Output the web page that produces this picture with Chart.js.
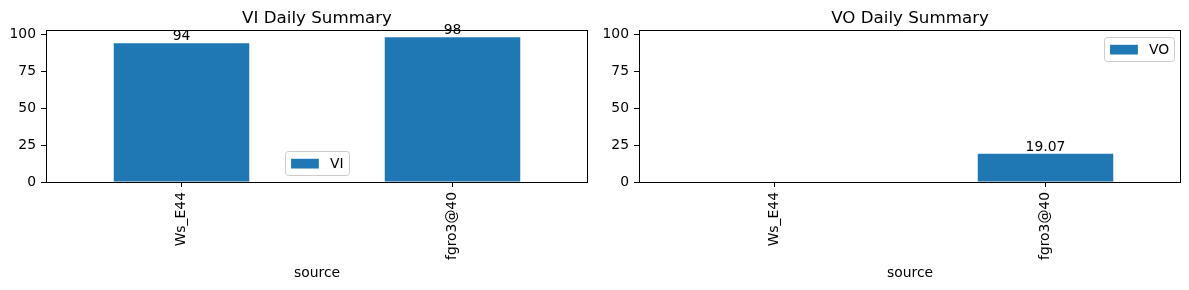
<!DOCTYPE html>
<html>
<head>
<meta charset="utf-8">
<script src="https://cdn.jsdelivr.net/npm/chart.js@4.4.1/dist/chart.umd.min.js"></script>
<style>
  html, body { margin:0; padding:0; background:#fff; overflow:hidden; }
  #wrap { position:relative; width:1189px; height:290px; }
  .panel { position:absolute; top:0; height:290px; }
</style>
</head>
<body>
<div id="wrap">
  <div class="panel" style="left:0;width:594px"><canvas id="chartVI"></canvas></div>
  <div class="panel" style="left:594px;width:595px"><canvas id="chartVO"></canvas></div>
</div>
<script>
// data
const sources = ['Ws_E44', 'fgro3@40'];
const viValues = [94, 98];
const voValues = [null, 19.07];   // no bar / no label for Ws_E44
const yTicks = [0, 25, 50, 75, 100];
const yMax = 102.9;

const FONT = 'DejaVu Sans';
const FS = 13.9;
const BAR = '#1f77b4';

// spines, title, bar labels and in-axes legend (matplotlib look)
const panelDecor = {
  id: 'panelDecor',
  afterDraw(chart, args, opts) {
    const ctx = chart.ctx;
    const a = chart.chartArea;
    ctx.save();

    // full box around the axes
    const l = Math.round(a.left), r = Math.round(a.right);
    const t = Math.round(a.top), b = Math.round(a.bottom);
    ctx.strokeStyle = '#000';
    ctx.lineWidth = 1;
    ctx.strokeRect(l + 0.5, t + 0.5, r - l - 1, b - t);

    // title
    ctx.fillStyle = '#000';
    ctx.font = `16.7px ${FONT}`;
    ctx.textAlign = 'center';
    ctx.textBaseline = 'alphabetic';
    ctx.fillText(opts.title, (a.left + a.right) / 2, 23);

    // bar value labels
    ctx.font = `${FS}px ${FONT}`;
    const ds = chart.data.datasets[0];
    chart.getDatasetMeta(0).data.forEach((bar, i) => {
      const v = ds.data[i];
      if (v == null) return;
      ctx.fillText(String(v), bar.x, bar.y - 2.8);
    });

    // legend
    const lg = opts.legend;
    const tw = ctx.measureText(lg.label).width;
    const pad = 0.4 * FS, hl = 2.0 * FS, htp = 0.8 * FS;
    const w = pad + hl + htp + tw + pad;
    const h = 24.3;
    let x, y;
    if (lg.loc === 'lower center') {
      x = (a.left + a.right) / 2 - w / 2;
      y = a.bottom - 0.5 * FS - h;
    } else {
      x = a.right - 0.5 * FS - w;
      y = a.top + 0.5 * FS;
    }
    x = Math.round(x) + 0.5; y = Math.round(y) + 0.5;
    ctx.beginPath();
    ctx.roundRect(x, y, Math.round(w), Math.round(h), 2.8);
    ctx.fillStyle = 'rgba(255,255,255,0.8)';
    ctx.fill();
    ctx.strokeStyle = '#cccccc';
    ctx.stroke();
    ctx.fillStyle = BAR;
    ctx.fillRect(x + pad, y + h / 2 - 0.35 * FS, hl, 0.7 * FS);
    ctx.fillStyle = '#000';
    ctx.textAlign = 'left';
    ctx.textBaseline = 'middle';
    ctx.fillText(lg.label, x + pad + hl + htp, y + h / 2 + 0.5);

    ctx.restore();
  }
};

function makeChart(id, label, values, title, legendLoc, yAxisWidth, padRight) {
  return new Chart(document.getElementById(id), {
    type: 'bar',
    data: {
      labels: sources,
      datasets: [{
        label: label,
        data: values,
        backgroundColor: BAR,
        borderWidth: 0,
        inflateAmount: 0,
        categoryPercentage: 1.0,
        barPercentage: 0.5
      }]
    },
    options: {
      responsive: true,
      maintainAspectRatio: false,
      animation: false,
      layout: { padding: { left: 0, right: padRight, top: 30, bottom: 0 } },
      plugins: {
        legend: { display: false },
        tooltip: { enabled: false },
        panelDecor: { title: title, legend: { label: label, loc: legendLoc } }
      },
      scales: {
        x: {
          offset: true,
          border: { display: false },
          grid: { offset: false, drawOnChartArea: false, drawTicks: true, tickLength: 5, color: '#000', lineWidth: 1 },
          ticks: {
            autoSkip: false, minRotation: 90, maxRotation: 90, padding: 5,
            color: '#000', font: { family: FONT, size: FS }
          },
          title: {
            display: true, text: 'source', color: '#000',
            font: { family: FONT, size: FS }, padding: { top: 0, bottom: 8 }
          },
          afterFit(scale) { scale.height = 108; }
        },
        y: {
          min: 0,
          max: yMax,
          border: { display: false },
          grid: { drawOnChartArea: false, drawTicks: true, tickLength: 5, color: '#000', lineWidth: 1 },
          ticks: { padding: 5, color: '#000', font: { family: FONT, size: FS } },
          afterBuildTicks(scale) { scale.ticks = yTicks.map(v => ({ value: v })); },
          afterFit(scale) { scale.width = yAxisWidth; }
        }
      }
    },
    plugins: [panelDecor]
  });
}

makeChart('chartVI', 'VI', viValues, 'VI Daily Summary', 'lower center', 46, 6);
makeChart('chartVO', 'VO', voValues, 'VO Daily Summary', 'upper right', 45, 8);
</script>
</body>
</html>
